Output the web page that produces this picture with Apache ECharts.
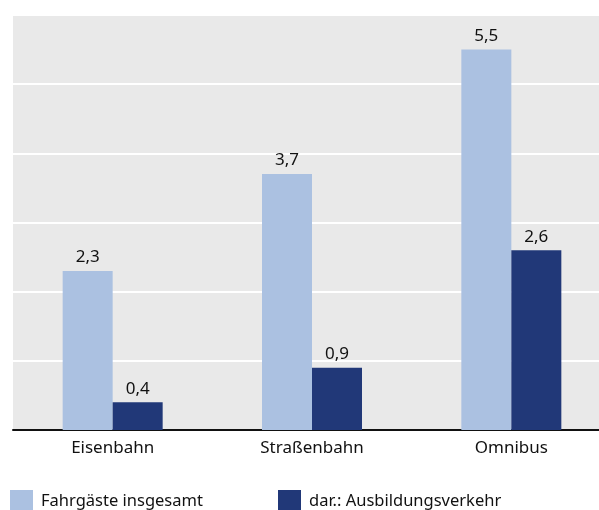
<!DOCTYPE html>
<html>
<head>
<meta charset="utf-8">
<script src="https://cdn.jsdelivr.net/npm/echarts@6/dist/echarts.min.js"></script>
<style>
  html, body { margin: 0; padding: 0; background: #fff; }
  #main { width: 599px; height: 510px; }
</style>
</head>
<body>
<div id="main"></div>
<script>
var categories = ['Eisenbahn', 'Straßenbahn', 'Omnibus'];
var totalName = 'Fahrgäste insgesamt';
var totalValues = [2.3, 3.7, 5.5];
var schoolName = 'dar.: Ausbildungsverkehr';
var schoolValues = [0.4, 0.9, 2.6];

var chart = echarts.init(document.getElementById('main'));
var font = 'Noto Sans';

// Dezimalkomma statt Punkt
function fmt(p) {
    return String(p.value).replace('.', ',');
}

var legendText = { fontSize: 16.5, color: '#111', fontFamily: font, padding: [0, 0, 0, 3] };

var option = {
    animation: false,
    textStyle: { fontFamily: font },
    grid: {
        left: 13,
        width: 598,
        top: 15,
        bottom: 80,
        outerBoundsMode: 'none',
        containLabel: false,
        backgroundColor: '#e9e9e9',
        show: true,
        borderWidth: 0
    },
    legend: [{
        data: [totalName],
        left: 10,
        top: 490,
        padding: 0,
        itemWidth: 23,
        itemHeight: 23,
        textStyle: legendText,
        icon: 'rect'
    }, {
        data: [schoolName],
        left: 278,
        top: 490,
        padding: 0,
        itemWidth: 23,
        itemHeight: 23,
        textStyle: legendText,
        icon: 'rect'
    }],
    xAxis: {
        type: 'category',
        data: categories,
        axisLine: { lineStyle: { color: '#111', width: 2 } },
        axisTick: { show: false },
        axisLabel: { fontSize: 17, color: '#111', margin: 10, fontFamily: font }
    },
    yAxis: {
        type: 'value',
        min: 0,
        max: 6,
        interval: 1,
        axisLabel: { show: false },
        axisLine: { show: false },
        axisTick: { show: false },
        splitLine: { lineStyle: { color: '#ffffff', width: 2 } }
    },
    series: [{
        name: totalName,
        type: 'bar',
        data: totalValues,
        barWidth: 50,
        barGap: '0%',
        itemStyle: { color: '#abc1e1' },
        label: { show: true, position: 'top', distance: 5, fontSize: 17, color: '#111', formatter: fmt, fontFamily: font }
    }, {
        name: schoolName,
        type: 'bar',
        data: schoolValues,
        barWidth: 50,
        barGap: '0%',
        itemStyle: { color: '#213878' },
        label: { show: true, position: 'top', distance: 5, fontSize: 17, color: '#111', formatter: fmt, fontFamily: font }
    }]
};

chart.setOption(option);
</script>
</body>
</html>
